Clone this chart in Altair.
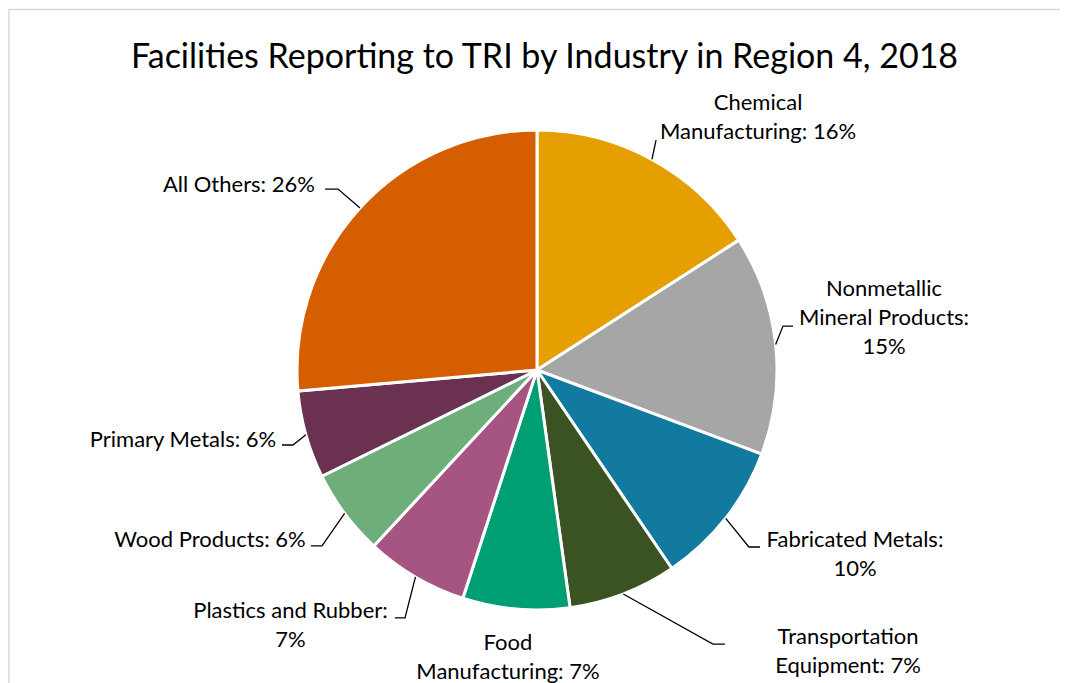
import math
import altair as alt
import pandas as pd

# ---- data ----
industries = [
    "Chemical Manufacturing",
    "Nonmetallic Mineral Products",
    "Fabricated Metals",
    "Transportation Equipment",
    "Food Manufacturing",
    "Plastics and Rubber",
    "Wood Products",
    "Primary Metals",
    "All Others",
]
shares = [15.9, 14.8, 9.8, 7.3, 7.2, 6.9, 5.8, 5.9, 26.4]
label_lines = [
    ["Chemical", "Manufacturing: {p}"],
    ["Nonmetallic", "Mineral Products:", "{p}"],
    ["Fabricated Metals:", "{p}"],
    ["Transportation", "Equipment: {p}"],
    ["Food", "Manufacturing: {p}"],
    ["Plastics and Rubber:", "{p}"],
    ["Wood Products: {p}"],
    ["Primary Metals: {p}"],
    ["All Others: {p}"],
]
colors = ["#E69F00", "#A6A6A6", "#12799F", "#3B5323", "#009E73",
          "#A65583", "#6DAE7B", "#6A3150", "#D55E00"]

# ---- layout (in pie-radius units, relative to the pie centre, y up) ----
label_pos = [(0.921, 1.054), (1.446, 0.217), (1.325, -0.767), (1.296, -1.171),
             (-0.121, -1.196), (-1.027, -1.065), (-1.3625, -0.708),
             (-1.475, -0.292), (-1.242, 0.771)]
elbow_pos = [(0.496, 0.958), (1.025, 0.183), (0.883, -0.7375), (0.733, -1.142),
             None, (-0.55, -1.033), (-0.896, -0.733), (-1.017, -0.3125),
             (-0.829, 0.754)]
end_pos = [(0.496, 0.958), (1.067, 0.183), (0.929, -0.7375), (0.783, -1.142),
           None, (-0.592, -1.033), (-0.942, -0.733), (-1.0625, -0.3125),
           (-0.883, 0.754)]

R_PX = 240          # pie radius in pixels
VIEW_W, VIEW_H = 1051, 690
CX, CY = 528, 361   # pie centre inside the view, pixels
LINE_H = 29
FONT = "Lato"

x_scale = alt.Scale(domain=[-CX / R_PX, (VIEW_W - CX) / R_PX], nice=False, zero=False)
y_scale = alt.Scale(domain=[-(VIEW_H - CY) / R_PX, CY / R_PX], nice=False, zero=False)

total = sum(shares)
pie_df = pd.DataFrame({
    "industry": industries,
    "share": shares,
    "order": list(range(len(industries))),
})

# labels (position given for the block centre; Vega anchors the first line)
lab_rows = []
for i, name in enumerate(industries):
    pct = f"{round(shares[i] / total * 100)}%"
    lines = [l.format(p=pct) for l in label_lines[i]]
    n = len(lines)
    lab_rows.append({"industry": name, "text": "\n".join(lines),
                     "x": label_pos[i][0],
                     "y": label_pos[i][1] + (n - 1) / 2 * LINE_H / R_PX})
lab_df = pd.DataFrame(lab_rows)

# leader lines: start at the slice edge at its mid angle
line_rows = []
cum = 0.0
for i, name in enumerate(industries):
    mid = (cum + shares[i] / 2) / total * 2 * math.pi
    cum += shares[i]
    if elbow_pos[i] is None:
        continue
    pts = [(math.sin(mid), math.cos(mid)), elbow_pos[i], end_pos[i]]
    for k, (px, py) in enumerate(pts):
        line_rows.append({"industry": name, "k": k, "x": px, "y": py})
line_df = pd.DataFrame(line_rows)

pie = alt.Chart(pie_df).mark_arc(radius=R_PX, stroke="white", strokeWidth=3).encode(
    theta=alt.Theta("share:Q", stack=True),
    order=alt.Order("order:Q"),
    color=alt.Color("industry:N", scale=alt.Scale(domain=industries, range=colors), legend=None),
    x=alt.datum(0, scale=x_scale, axis=None),
    y=alt.datum(0, scale=y_scale, axis=None),
)

leaders = alt.Chart(line_df).mark_line(color="#000000", strokeWidth=1.3).encode(
    x=alt.X("x:Q", scale=x_scale, axis=None),
    y=alt.Y("y:Q", scale=y_scale, axis=None),
    detail="industry:N",
    order="k:Q",
)

labels = alt.Chart(lab_df).mark_text(
    font=FONT, fontSize=22, color="#000000", align="center", baseline="middle",
    lineBreak="\n", lineHeight=LINE_H,
).encode(
    x=alt.X("x:Q", scale=x_scale, axis=None),
    y=alt.Y("y:Q", scale=y_scale, axis=None),
    text="text:N",
)

# chart frame (top and left edges; the right and bottom lie outside the picture)
frame_df = pd.DataFrame({"edge": ["top", "left"]})
frame_top = alt.Chart(frame_df.iloc[:1]).mark_rule(color="#D9D9D9", strokeWidth=1.5).encode(
    x=alt.value(0), x2=alt.value(VIEW_W + 40), y=alt.value(0.5),
)
frame_left = alt.Chart(frame_df.iloc[1:]).mark_rule(color="#D9D9D9", strokeWidth=1.5).encode(
    x=alt.value(0), y=alt.value(0), y2=alt.value(VIEW_H + 40),
)

chart = alt.layer(frame_top, frame_left, pie, leaders, labels).properties(
    width=VIEW_W,
    height=VIEW_H,
    autosize=alt.AutoSizeParams(type="none"),
    padding={"left": 1, "top": 1, "right": 0, "bottom": 0},
    title=alt.TitleParams(
        "Facilities Reporting to TRI by Industry in Region 4, 2018",
        font=FONT, fontSize=34, fontWeight="normal", color="#000000",
        anchor="middle", offset=-67, dx=10,
    ),
).configure_view(strokeWidth=0)

chart.save("out.html", embed_options={"renderer": "svg", "actions": False})
